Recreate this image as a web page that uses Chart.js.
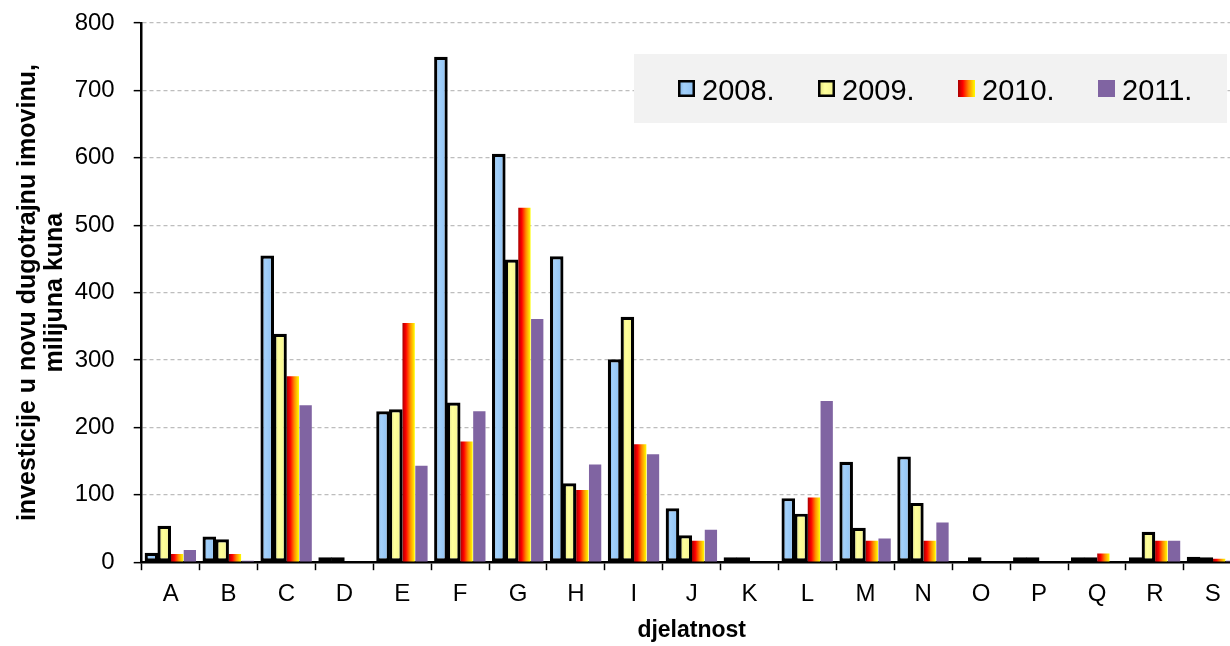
<!DOCTYPE html>
<html>
<head>
<meta charset="utf-8">
<script src="https://cdn.jsdelivr.net/npm/chart.js@4.4.1/dist/chart.umd.min.js"></script>
<style>
  html, body { margin: 0; padding: 0; background: #ffffff; overflow: hidden; width: 1230px; height: 646px; }
  canvas { display: block; }
</style>
</head>
<body>
<canvas id="chart" width="1244" height="646" style="width:1244px;height:646px"></canvas>
<script>
// ---- data ----
const categories = ['A','B','C','D','E','F','G','H','I','J','K','L','M','N','O','P','Q','R','S'];
const seriesLabels = ['2008.', '2009.', '2010.', '2011.'];
const values2008 = [14, 38, 455, 1, 224, 750, 606, 454, 301, 80, 1, 95, 149, 157, null, 3, 3, 5, 8];
const values2009 = [54, 34, 339, 1, 227, 237, 449, 117, 364, 40, 1, 72, 51, 88, 1, 1, 1, 45, 6];
const values2010 = [12, 12, 276, null, 355, 179, 526, 107, 175, 32, null, 96, 32, 32, null, null, 13, 32, 5];
const values2011 = [18, 2, 233, null, 143, 224, 361, 145, 160, 48, null, 239, 35, 59, null, null, null, 32, 2];
const yTickValues = [0, 100, 200, 300, 400, 500, 600, 700, 800];
const yAxisTitle = ['investicije u novu dugotrajnu imovinu,', 'milijuna kuna'];
const xAxisTitle = 'djelatnost';

// ---- styles ----
const FONT = "'Liberation Sans', Arial, sans-serif";
const GRADIENTS = [
  [[0, '#78AEE0'], [0.35, '#A3D0FA'], [1, '#8CC0F2']],
  [[0, '#DADA72'], [0.4, '#FFFF9C'], [1, '#F2F28C']],
  [[0, '#A80000'], [0.28, '#FF0000'], [0.62, '#FF8A00'], [1, '#FFFF00']],
  null
];
const SOLID = ['#8EC3F5', '#FFFF99', '#FF6600', '#8064A2'];
const BORDERS = [3.2, 3.2, 0, 0];

function makeGradient(ctx, x0, x1, stops) {
  const g = ctx.createLinearGradient(x0, 0, x1, 0);
  stops.forEach(([o, c]) => g.addColorStop(o, c));
  return g;
}

const gradientPlugin = {
  id: 'barGradients',
  beforeDatasetsDraw(chart) {
    const ctx = chart.ctx;
    chart.data.datasets.forEach((ds, i) => {
      const stops = GRADIENTS[i];
      if (!stops) return;
      const meta = chart.getDatasetMeta(i);
      meta.data.forEach(el => {
        const p = el.getProps(['x', 'width'], true);
        if (!isFinite(p.x) || !isFinite(p.width)) return;
        try { el.options.backgroundColor = makeGradient(ctx, p.x - p.width / 2, p.x + p.width / 2, stops); } catch (e) {}
      });
    });
  }
};

const legendPlugin = {
  id: 'boxLegend',
  beforeDatasetsDraw(chart) {
    const ctx = chart.ctx;
    const o = chart.options.plugins.boxLegend;
    ctx.save();
    ctx.fillStyle = o.background;
    ctx.fillRect(o.left, o.top, o.width, o.height);
    ctx.font = o.fontSize + 'px ' + FONT;
    ctx.textBaseline = 'alphabetic';
    ctx.textAlign = 'left';
    chart.data.datasets.forEach((ds, i) => {
      const bx = o.firstX + i * o.step;
      const by = o.boxY;
      const s = o.box;
      ctx.fillStyle = GRADIENTS[i] ? makeGradient(ctx, bx, bx + s, GRADIENTS[i]) : SOLID[i];
      ctx.fillRect(bx, by, s, s);
      if (BORDERS[i]) {
        ctx.lineWidth = 2.5;
        ctx.strokeStyle = '#000';
        ctx.strokeRect(bx + 1.25, by + 1.25, s - 2.5, s - 2.5);
      }
      ctx.fillStyle = '#000';
      ctx.fillText(ds.label, bx + s + o.gap, o.textBaseline);
    });
    ctx.restore();
  }
};

const series = [values2008, values2009, values2010, values2011];
const datasets = series.map((vals, i) => ({
  label: seriesLabels[i],
  data: vals,
  backgroundColor: () => SOLID[i],
  borderColor: '#000000',
  borderWidth: BORDERS[i],
  borderSkipped: false,
  minBarLength: BORDERS[i] ? 5 : 0,
  categoryPercentage: 0.885,
  barPercentage: BORDERS[i] ? 1.06 : 0.96
}));

new Chart(document.getElementById('chart'), {
  type: 'bar',
  data: { labels: categories, datasets },
  plugins: [gradientPlugin, legendPlugin],
  options: {
    responsive: false,
    animation: false,
    events: [],
    layout: { padding: { left: 14.5, right: 2.3, top: 23, bottom: 2 } },
    plugins: {
      legend: { display: false },
      tooltip: { enabled: false },
      boxLegend: {
        background: '#F2F2F2',
        left: 634, top: 54, width: 593, height: 69,
        firstX: 678, step: 140, box: 17, boxY: 80, gap: 7,
        fontSize: 29, textBaseline: 99.5
      }
    },
    scales: {
      x: {
        afterFit: (s) => { s.height = 81.8; s.paddingLeft = 0; s.paddingRight = 0; },
        grid: { display: true, offset: true, drawOnChartArea: false, drawTicks: true, tickLength: 8, tickColor: '#000', tickWidth: 1.5 },
        border: { display: true, color: '#000', width: 2.5 },
        ticks: { color: '#000', font: { family: FONT, size: 24 }, padding: 10, maxRotation: 0, autoSkip: false },
        title: { display: true, text: xAxisTitle, color: '#000', font: { family: FONT, size: 23, weight: 'bold' }, padding: { top: 7.6, bottom: 0 } }
      },
      y: {
        min: 0, max: 800,
        afterBuildTicks: (scale) => { scale.ticks = yTickValues.map(v => ({ value: v })); },
        afterFit: (s) => { s.width = 127.2; s.paddingTop = 0; s.paddingBottom = 0; },
        grid: {
          color: (c) => (c.tick && c.tick.value === 0) ? 'rgba(0,0,0,0)' : '#BDBDBD',
          lineWidth: 1.3, tickColor: '#000', tickLength: 8, tickWidth: 1.5
        },
        border: { display: true, color: '#000', width: 2.5, dash: [4, 3] },
        ticks: { color: '#000', font: { family: FONT, size: 24 }, padding: 19 },
        title: { display: true, text: yAxisTitle, color: '#000', font: { family: FONT, size: 25, weight: 'bold', lineHeight: 1.08 }, padding: { top: 0, bottom: 6 } }
      }
    }
  }
});
</script>
</body>
</html>
